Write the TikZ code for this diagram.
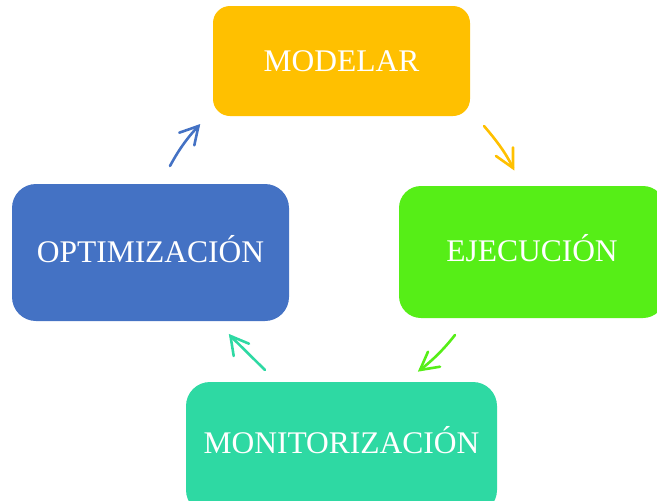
\documentclass[tikz,border=0pt]{standalone}
\usepackage{fontspec}
\setmainfont{Liberation Serif}
\definecolor{cyellow}{HTML}{FFC000}
\definecolor{cgreen}{HTML}{56EE17}
\definecolor{cteal}{HTML}{2ED9A3}
\definecolor{cblue}{HTML}{4472C4}
\tikzset{x=1pt,y=-1pt,
  stagebox/.style={rounded corners=#1, text=white, font=\fontsize{31.5pt}{36pt}\selectfont, inner sep=0pt, outer sep=0pt, text height=19pt, text depth=0pt},
  link/.style={line width=2.6pt, line cap=round, line join=miter}}
\begin{document}
\begin{tikzpicture}
\useasboundingbox (0,0) rectangle (657,501);
\begin{scope}
\clip (0,0) rectangle (657,501);
\node[stagebox=17pt, fill=cyellow, minimum width=257pt, minimum height=110pt, text height=20pt] (m) at (341.5,61) {MODELAR};
\node[stagebox=22pt, fill=cgreen, minimum width=266pt, minimum height=132pt] (e) at (532,252) {EJECUCIÓN};
\node[stagebox=24pt, fill=cteal, minimum width=311pt, minimum height=132pt, text height=10pt] (t) at (341.5,448) {MONITORIZACIÓN};
\node[stagebox=24pt, fill=cblue, minimum width=277pt, minimum height=137pt] (o) at (150.5,252.5) {OPTIMIZACIÓN};
\end{scope}
\coordinate (a1) at (484,126); \coordinate (a2) at (513,168);
\coordinate (a3) at (496,156); \coordinate (a4) at (513,147.5);
\coordinate (b1) at (455,335); \coordinate (b2) at (420,370);
\coordinate (b3) at (428,351.7); \coordinate (b4) at (440,366.7);
\coordinate (c1) at (265,370); \coordinate (c2) at (230.5,336);
\coordinate (c3) at (249,343.7); \coordinate (c4) at (233.7,356);
\coordinate (d1) at (170,166); \coordinate (d2) at (198.5,126);
\coordinate (d3) at (179.3,132.7); \coordinate (d4) at (194.3,145.3);
\draw[link, cyellow] (a1) .. controls (496,140) and (506,153) .. (a2);
\draw[link, cyellow] (a3) -- (a2) -- (a4);
\draw[link, cgreen] (b1) .. controls (444,349) and (433,360) .. (b2);
\draw[link, cgreen] (b3) -- (b2) -- (b4);
\draw[link, cteal] (c1) -- (c2);
\draw[link, cteal] (c3) -- (c2) -- (c4);
\draw[link, cblue] (d1) .. controls (178,151) and (187,138) .. (d2);
\draw[link, cblue] (d3) -- (d2) -- (d4);
\end{tikzpicture}
\end{document}
